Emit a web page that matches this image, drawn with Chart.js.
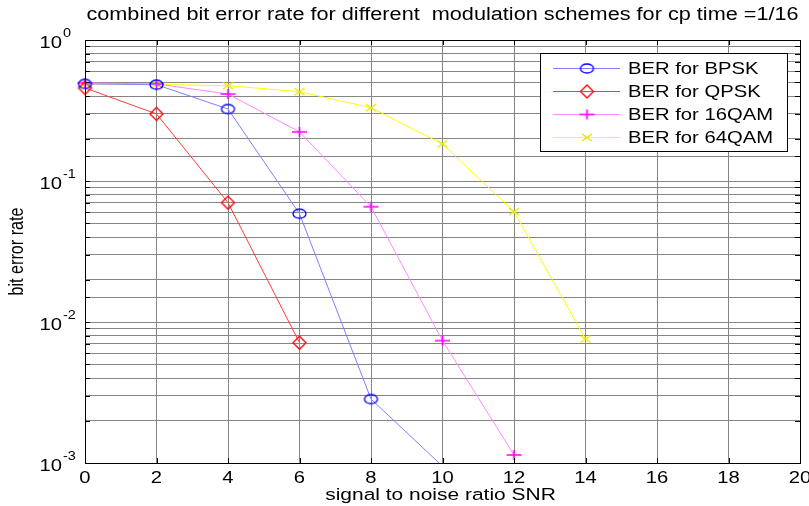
<!DOCTYPE html>
<html>
<head>
<meta charset="utf-8">
<script src="https://cdn.jsdelivr.net/npm/chart.js@4.4.1/dist/chart.umd.min.js"></script>
<style>
  body { margin: 0; background: #fff; }
  #wrap { width: 809px; height: 506px; }
</style>
</head>
<body>
<div id="wrap"><canvas id="myChart" width="809" height="506"></canvas></div>
<script>
// values
const snr = [0, 2, 4, 6, 8, 10, 12, 14];
const ber_bpsk = [0.488, 0.482, 0.324, 0.0586, 0.00284, 0.00095];
const ber_qpsk = [0.457, 0.299, 0.0702, 0.00713];
const ber_16qam = [0.496, 0.488, 0.414, 0.223, 0.0657, 0.00737, 0.00114];
const ber_64qam = [0.488, 0.484, 0.474, 0.430, 0.331, 0.183, 0.0606, 0.00757];
const xTicks = [0, 2, 4, 6, 8, 10, 12, 14, 16, 18, 20];
const decades = [-3, -2, -1, 0];
const yMin = 0.001, yMax = 1;

const titleText = 'combined bit error rate for different  modulation schemes for cp time =1/16';
const xTitle = 'signal to noise ratio SNR';
const yTitle = 'bit error rate';
const FONT = '"Liberation Sans", Arial, sans-serif';

// the picture is a stretched matlab export, text is wider than tall
const SX = 1.445, SY = 1.2;

function toPoints(vals) {
  let pts = [];
  for (let i = 0; i < vals.length; i++) {
    pts.push({ x: snr[i], y: vals[i] });
  }
  return pts;
}

function stretchText(c, txt, x, y, size, align, rotated) {
  c.save();
  c.translate(x, y);
  c.scale(SX, SY);
  if (rotated) c.rotate(-Math.PI / 2);
  c.font = size + 'px ' + FONT;
  c.textAlign = align;
  c.textBaseline = 'middle';
  c.fillStyle = '#000';
  c.fillText(txt, 0, 0);
  c.restore();
}

// matlab style markers as small canvases
function makeMarker(kind, color, w, h, lw) {
  const cv = document.createElement('canvas');
  cv.width = w + 4;
  cv.height = h + 4;
  const m = cv.getContext('2d');
  const cx = cv.width / 2, cy = cv.height / 2;
  m.strokeStyle = color;
  m.lineWidth = lw;
  m.beginPath();
  if (kind === 'ellipse') {
    m.ellipse(cx, cy, w / 2, h / 2, 0, 0, 2 * Math.PI);
  } else if (kind === 'diamond') {
    m.moveTo(cx, cy - h / 2); m.lineTo(cx + w / 2, cy);
    m.lineTo(cx, cy + h / 2); m.lineTo(cx - w / 2, cy);
    m.closePath();
  } else if (kind === 'plus') {
    m.moveTo(cx - w / 2, cy); m.lineTo(cx + w / 2, cy);
    m.moveTo(cx, cy - h / 2); m.lineTo(cx, cy + h / 2);
  } else {
    m.moveTo(cx - w / 2, cy - h / 2); m.lineTo(cx + w / 2, cy + h / 2);
    m.moveTo(cx + w / 2, cy - h / 2); m.lineTo(cx - w / 2, cy + h / 2);
  }
  m.stroke();
  return cv;
}

// draws title, box, inward ticks, all labels and the legend
const matlabLook = {
  id: 'matlabLook',
  afterDraw(chart) {
    const c = chart.ctx;
    const a = chart.chartArea;
    const xs = chart.scales.x, ys = chart.scales.y;
    c.save();

    stretchText(c, titleText, (a.left + a.right) / 2, 15, 15, 'center', false);

    // box
    c.strokeStyle = '#000';
    c.lineWidth = 1;
    c.strokeRect(a.left + 0.5, a.top + 0.5, a.right - a.left, a.bottom - a.top);

    // inward ticks
    c.beginPath();
    xTicks.forEach(v => {
      const px = Math.round(xs.getPixelForValue(v)) + 0.5;
      c.moveTo(px, a.bottom); c.lineTo(px, a.bottom - 5);
      c.moveTo(px, a.top); c.lineTo(px, a.top + 5);
    });
    ys.ticks.forEach(t => {
      const py = Math.round(ys.getPixelForValue(t.value)) + 0.5;
      c.moveTo(a.left, py); c.lineTo(a.left + 5, py);
      c.moveTo(a.right, py); c.lineTo(a.right - 5, py);
    });
    c.stroke();

    // x labels
    xTicks.forEach(v => {
      stretchText(c, String(v), xs.getPixelForValue(v), a.bottom + 15, 14, 'center', false);
    });
    stretchText(c, xTitle, (a.left + a.right) / 2 - 2, 495, 14.5, 'center', false);

    // y labels 10^k
    decades.forEach(k => {
      const py = ys.getPixelForValue(Math.pow(10, k));
      stretchText(c, '10', 62, py + 3, 14, 'right', false);
      stretchText(c, String(k), 63, py - 6, 10, 'left', false);
    });
    stretchText(c, yTitle, 18, (a.top + a.bottom) / 2, 13.5, 'center', true);

    // legend
    const lx = 540, ly = 53, lw = 247, lh = 98;
    c.fillStyle = '#fff';
    c.fillRect(lx, ly, lw, lh);
    c.strokeStyle = '#000';
    c.lineWidth = 1;
    c.strokeRect(lx + 0.5, ly + 0.5, lw, lh);
    chart.data.datasets.forEach((ds, i) => {
      const ry = ly + 15 + i * 23;
      c.strokeStyle = ds.borderColor;
      c.lineWidth = 1;
      c.beginPath();
      c.moveTo(553, ry + 0.5); c.lineTo(620, ry + 0.5);
      c.stroke();
      const mk = ds.pointStyle;
      c.drawImage(mk, 587 - mk.width / 2, ry + 0.5 - mk.height / 2);
      stretchText(c, ds.label, 628, ry + 1, 14, 'left', false);
    });
    c.restore();
  }
};

function series(label, vals, lineColor, marker) {
  return {
    label: label,
    data: toPoints(vals),
    borderColor: lineColor,
    borderWidth: 1,
    pointStyle: marker,
    // matlab does not draw markers that fall outside the axes
    pointRadius: ctx => (ctx.raw && ctx.raw.y < yMin) ? 0 : 5,
    tension: 0,
    fill: false,
    clip: { left: 12, top: 12, right: 12, bottom: 0 }
  };
}

const ctx = document.getElementById('myChart');
new Chart(ctx, {
  type: 'line',
  data: {
    datasets: [
      series('BER for BPSK', ber_bpsk, '#7f7fff', makeMarker('ellipse', '#0000ff', 13, 9, 1.3)),
      series('BER for QPSK', ber_qpsk, '#ff3a3a', makeMarker('diamond', '#ff0000', 13, 13, 1.3)),
      series('BER for 16QAM', ber_16qam, '#ff88ff', makeMarker('plus', '#ff00ff', 15, 10, 1.7)),
      series('BER for 64QAM', ber_64qam, '#ffff00', makeMarker('x', '#e6e600', 10, 7, 1.5))
    ]
  },
  options: {
    responsive: false,
    animation: false,
    layout: { padding: { top: 40, right: 9, left: 0, bottom: 0 } },
    plugins: {
      legend: { display: false },
      tooltip: { enabled: false }
    },
    scales: {
      x: {
        type: 'linear',
        min: 0,
        max: 20,
        afterFit: s => { s.height = 43; },
        afterBuildTicks: s => { s.ticks = xTicks.map(v => ({ value: v })); },
        grid: { color: '#858585', drawTicks: false },
        border: { display: false },
        ticks: { display: false }
      },
      y: {
        type: 'logarithmic',
        min: yMin,
        max: yMax,
        afterFit: s => { s.width = 85; },
        grid: { color: '#858585', drawTicks: false },
        border: { display: false },
        ticks: { display: false, autoSkip: false }
      }
    }
  },
  plugins: [matlabLook]
});
</script>
</body>
</html>
